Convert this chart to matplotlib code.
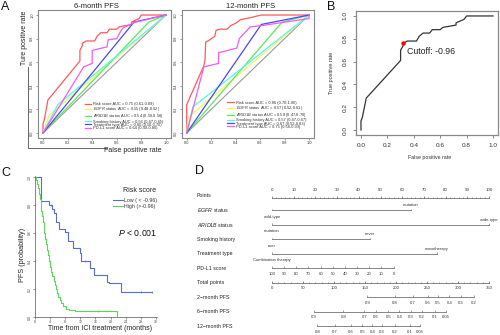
import matplotlib
matplotlib.use('Agg')
import matplotlib.pyplot as plt
from matplotlib.lines import Line2D

plt.rcParams['font.family'] = ['Liberation Sans', 'DejaVu Sans']
plt.rcParams['mathtext.fontset'] = 'custom'
plt.rcParams['mathtext.it'] = 'Liberation Sans:italic'
plt.rcParams['mathtext.rm'] = 'Liberation Sans'

# ------------------------------------------------------------------ data
roc_names = ['Risk score', r'$\it{EGFR}$ status', r'$\it{ARID1B}$ status',
             'Smoking history', 'Treatment type', 'PD-L1 score']
roc_colors = ['#ff5a5a', '#f4f45a', '#5aea5a', '#5af4f4', '#4848f4', '#f45af4']
auc_6m = ['0.75 (0.61-0.89)', '0.55 (0.48-0.62)', '0.54 (0.50-0.58)',
          '0.56 (0.47-0.65)', '0.60 (0.50-0.70)', '0.64 (0.49-0.80)']
auc_12m = ['0.86 (0.70-1.00)', '0.57 (0.52-0.61)', '0.58 (0.47-0.70)',
           '0.57 (0.47-0.67)', '0.67 (0.52-0.83)', '0.75 (0.58-0.93)']

# 6-month ROC curves (fpr, tpr)
risk_fpr = [0, 0, 0.01, 0.04, 0.30, 0.30, 0.32, 0.32, 0.35, 0.42, 0.44, 0.47,
            0.52, 0.54, 0.60, 0.62, 0.72, 0.72, 0.78, 0.80, 1.0]
risk_tpr = [0, 0.08, 0.11, 0.28, 0.61, 0.70, 0.74, 0.76, 0.78, 0.78, 0.82, 0.85,
            0.85, 0.88, 0.88, 0.90, 0.92, 0.94, 0.97, 1.0, 1.0]
egfr6_fpr, egfr6_tpr = [0, 0.05, 1], [0, 0.15, 1]
arid6_fpr, arid6_tpr = [0, 0.86, 1], [0, 0.94, 1]
smoke6_fpr, smoke6_tpr = [0, 0.12, 1], [0, 0.24, 1]
treat6_fpr, treat6_tpr = [0, 0.74, 1], [0, 0.94, 1]
pdl6_fpr = [0, 0.33, 0.40, 0.40, 0.52, 0.53, 0.60, 0.63, 0.65, 0.75, 0.80, 1.0]
pdl6_tpr = [0, 0.56, 0.59, 0.70, 0.73, 0.79, 0.80, 0.86, 0.89, 0.94, 0.95, 1.0]

# 12-month ROC curves
risk12_fpr = [0, 0, 0.14, 0.15, 0.155, 0.19, 0.23, 0.24, 0.27, 0.33, 0.36, 0.40,
              0.44, 0.53, 0.61, 1.0]
risk12_tpr = [0, 0.24, 0.57, 0.62, 0.77, 0.79, 0.82, 0.87, 0.88, 0.88, 0.91, 0.93,
              0.96, 0.98, 1.0, 1.0]
egfr12_fpr, egfr12_tpr = [0, 0.01, 1], [0, 0.13, 1]
arid12_fpr, arid12_tpr = [0, 0.78, 1], [0, 0.94, 1]
smoke12_fpr, smoke12_tpr = [0, 0.05, 1], [0, 0.22, 1]
treat12_fpr, treat12_tpr = [0, 0.61, 1], [0, 0.92, 1]
pdl12_fpr = [0, 0.14, 0.26, 0.26, 0.41, 0.43, 0.52, 0.61, 1.0, 1.0]
pdl12_tpr = [0, 0.56, 0.59, 0.68, 0.72, 0.80, 0.90, 0.91, 0.97, 1.0]

cutoff_fpr, cutoff_tpr, cutoff_label = 0.32, 0.76, 'Cutoff: -0.96'

# Kaplan-Meier (time in months, survival)
low_t = [0, 1.5, 3.8, 4.4, 5.0, 5.5, 6.3, 8.0, 8.8, 10.0, 12.0, 12.3, 14.6, 15.7,
         19.0, 19.7, 22.8, 31.0]
low_s = [1.0, 0.83, 0.80, 0.77, 0.74, 0.68, 0.63, 0.61, 0.54, 0.49, 0.46, 0.40,
         0.35, 0.30, 0.25, 0.24, 0.18, 0.18]
low_cens_t = [4.2, 13.3, 28.0, 31.0]
low_cens_s = [0.80, 0.40, 0.18, 0.18]
high_t = [0, 0.3, 0.6, 0.9, 1.1, 1.3, 1.5, 1.7, 1.9, 2.1, 2.3, 2.5, 2.7, 2.9, 3.1,
          3.4, 3.7, 4.0, 4.3, 4.6, 4.9, 5.2, 5.5, 5.8, 6.2, 6.6, 7.0, 7.5, 8.2,
          9.0, 10.5, 21.6]
high_s = [1.0, 0.98, 0.95, 0.92, 0.88, 0.84, 0.80, 0.76, 0.72, 0.68, 0.64, 0.60,
          0.56, 0.52, 0.48, 0.44, 0.40, 0.36, 0.32, 0.29, 0.26, 0.23, 0.20, 0.17,
          0.14, 0.12, 0.10, 0.08, 0.06, 0.05, 0.04, 0.0]
high_cens_t = [16.8]
high_cens_s = [0.04]

# Nomogram
nomo_rows = ['Points', r'$\it{EGFR}$ status', r'$\it{ARID1B}$ status', 'Smoking history',
             'Treatment type', 'PD-L1 score', 'Total points', '2\u2212month PFS',
             '6\u2212month PFS', '12\u2212month PFS']
points_ticks = [0, 10, 20, 30, 40, 50, 60, 70, 80, 90, 100]
egfr_levels, egfr_pts = ['wild-type', 'mutation'], [0, 64]
arid_levels, arid_pts = ['mutation', 'wide-type'], [0, 100]
smoke_levels, smoke_pts = ['ever', 'never'], [0, 45]
treat_levels, treat_pts = ['Combination therapy', 'monotherapy'], [0, 76]
pdl1_values = [100, 90, 80, 70, 60, 50, 40, 30, 20, 10, 0]
pdl1_pts = [0, 5.6, 11.2, 16.8, 22.4, 28.0, 33.6, 39.2, 44.8, 50.4, 56.0]
total_ticks = [0, 50, 100, 150, 200, 250, 300, 350]
pfs2_probs = ['0.9', '0.8', '0.7', '0.6', '0.5', '0.4', '0.3', '0.2']
pfs2_total = [154, 198, 227, 251, 268, 286, 305, 325]
pfs6_probs = ['0.9', '0.8', '0.7', '0.6', '0.5', '0.4', '0.3', '0.2', '0.1', '0.05']
pfs6_total = [67.5, 115, 149, 168, 187.5, 205.6, 224, 241.5, 263, 280]
pfs12_probs = ['0.8', '0.7', '0.6', '0.5', '0.4', '0.3', '0.2', '0.1', '0.05']
pfs12_total = [73, 101, 127, 145.5, 162, 177, 198, 222, 238.7]

# ------------------------------------------------------------------ figure
W, H = 500, 335
fig = plt.figure(figsize=(5, 3.35), dpi=100)


def box(l, t, r, b):
    return [l / W, 1 - b / H, (r - l) / W, (b - t) / H]


def ftext(x, y, s, **kw):
    fig.text(x / W, 1 - y / H, s, **kw)


def roc_axes(rect):
    ax = fig.add_axes(box(*rect))
    ax.set_xlim(-0.04, 1.04)
    ax.set_ylim(-0.04, 1.04)
    t = [0, 0.2, 0.4, 0.6, 0.8, 1.0]
    ax.set_xticks(t, ['0.0', '0.2', '0.4', '0.6', '0.8', '1.0'])
    ax.set_yticks(t, ['0.0', '0.2', '0.4', '0.6', '0.8', '1.0'],
                  rotation=90, va='center')
    ax.tick_params(labelsize=2.8, length=1.5, width=0.4, pad=1.2,
                   colors='#555', labelcolor='#333')
    for s in ax.spines.values():
        s.set_color('#888')
        s.set_linewidth(0.8)
    return ax


def draw_rocs(ax, curves, aucs, legend_xy):
    ax.plot([0, 1], [0, 1], color='#9a9a9a', lw=0.8)
    handles = []
    for (fx, ty), c, n, a in zip(curves, roc_colors, roc_names, aucs):
        ax.plot(fx, ty, color=c, lw=0.9)
        handles.append(Line2D([], [], color=c, lw=0.9, label=f'{n} AUC = {a}'))
    ax.legend(handles=handles, loc='lower left', bbox_to_anchor=legend_xy,
              frameon=False, fontsize=2.9, handlelength=1.6, handletextpad=0.5,
              labelspacing=-0.2, borderpad=0, borderaxespad=0, labelcolor='#333')


# ---- Panel A
axA1 = roc_axes((38.1, 10.3, 170.9, 137.7))
draw_rocs(axA1, [(risk_fpr, risk_tpr), (egfr6_fpr, egfr6_tpr), (arid6_fpr, arid6_tpr),
                 (smoke6_fpr, smoke6_tpr), (treat6_fpr, treat6_tpr),
                 (pdl6_fpr, pdl6_tpr)], auc_6m, (0.353, 0.06))
axA2 = roc_axes((181.8, 10.3, 313.9, 137.7))
draw_rocs(axA2, [(risk12_fpr, risk12_tpr), (egfr12_fpr, egfr12_tpr),
                 (arid12_fpr, arid12_tpr), (smoke12_fpr, smoke12_tpr),
                 (treat12_fpr, treat12_tpr), (pdl12_fpr, pdl12_tpr)],
          auc_12m, (0.344, 0.07))
ftext(96, 6, '6-month PFS', fontsize=5.5, ha='center', va='center', color='#222')
ftext(251, 6, '12-month PFS', fontsize=5.5, ha='center', va='center', color='#222')
ftext(25, 38, 'Ture positive rate', fontsize=5, rotation=90, ha='center',
      va='center', color='#222')
ftext(132.5, 150, 'False positive rate', fontsize=5, ha='center', va='center',
      color='#222')
fig.add_artist(Line2D([28 / W, 28 / W, 107 / W],
                      [1 - 67 / H, 1 - 148 / H, 1 - 148 / H],
                      color='#666', lw=0.7, transform=fig.transFigure))

# ---- Panel B
axB = fig.add_axes(box(355.7, 11.4, 498.3, 134.6))
axB.set_xlim(-0.04, 1.04)
axB.set_ylim(-0.04, 1.04)
tk = [0, 0.2, 0.4, 0.6, 0.8, 1.0]
axB.set_xticks(tk, ['0.0', '0.2', '0.4', '0.6', '0.8', '1.0'])
axB.set_yticks(tk, ['0.0', '0.2', '0.4', '0.6', '0.8', '1.0'], rotation=90,
               va='center')
axB.tick_params(labelsize=4.6, length=2.5, width=0.5, pad=3.2, colors='#555',
                labelcolor='#333')
for s in axB.spines.values():
    s.set_color('#888')
    s.set_linewidth(0.9)
axB.plot(risk_fpr, risk_tpr, color='#333', lw=0.9)
axB.plot([cutoff_fpr], [cutoff_tpr], 'o', color='red', ms=2.2)
axB.text(cutoff_fpr + 0.03, cutoff_tpr - 0.07, cutoff_label, fontsize=6.3,
         ha='left', va='center', color='#222')
ftext(430, 158, 'False positive rate', fontsize=3.8, ha='center', va='center',
      color='#333')
ftext(332, 73, 'True positive rate', fontsize=4, rotation=90, ha='center',
      va='center', color='#333')

# ---- Panel C
axC = fig.add_axes(box(35, 175.6, 157, 317))
axC.set_xlim(0, 32.3)
axC.set_ylim(0, 1.01)
axC.step(low_t, low_s, where='post', color='#5b6ccf', lw=0.8)
axC.step(high_t, high_s, where='post', color='#5ed35e', lw=0.8)
axC.plot(low_cens_t, low_cens_s, ls='none', marker='|', ms=2, mew=0.5,
         color='#5b6ccf')
axC.plot(high_cens_t, high_cens_s, ls='none', marker='|', ms=2, mew=0.5,
         color='#5ed35e')
axC.set_xticks([0, 4, 8, 12, 16, 20, 24, 28, 32])
axC.set_yticks([0, 0.2, 0.4, 0.6, 0.8, 1.0],
               ['0.0', '0.2', '0.4', '0.6', '0.8', '1.0'], rotation=90, va='center')
axC.tick_params(labelsize=2.5, length=1.3, width=0.4, pad=1, colors='#444')
for k in ('top', 'right'):
    axC.spines[k].set_visible(False)
for k in ('left', 'bottom'):
    axC.spines[k].set_color('#555')
    axC.spines[k].set_linewidth(0.5)
axC.legend(handles=[Line2D([], [], color='#5b6ccf', lw=0.8, label='Low ( < -0.96)'),
                    Line2D([], [], color='#5ed35e', lw=0.8, label='High (>-0.96)')],
           loc='upper left', bbox_to_anchor=((113 - 35) / 122, (317 - 198) / 141.4),
           frameon=False, fontsize=3.8, handlelength=1.8, handletextpad=0.3,
           labelspacing=0.15, borderpad=0, borderaxespad=0, labelcolor='#333')
ftext(140, 190, 'Risk score', fontsize=5, ha='center', va='center', color='#222')
ftext(138, 233, r'$\it{P}$ < 0.001', fontsize=6.3, ha='center', va='center',
      color='#111')
ftext(23, 255, 'PFS (probability)', fontsize=5.2, rotation=90, ha='center',
      va='center', color='#222')
ftext(100, 328, 'Time from ICI treatment (months)', fontsize=5, ha='center',
      va='center', color='#222')

# ---- Panel D (nomogram)
P0, PPX = 272.0, 2.17          # pixel of 0 points, pixels per point
R0, RPX = 195.7, 14.48          # pixel of row 0, pixels per row
L, R, T, B = 175, 500, 180, 335
axD = fig.add_axes(box(L, T, R, B))
axD.set_xlim((L - P0) / PPX, (R - P0) / PPX)
axD.set_ylim((B - R0) / RPX, (T - R0) / RPX)
axD.axis('off')
px = 1 / RPX
lc = '#555'
lab_x = (197 - P0) / PPX
for i, name in enumerate(nomo_rows):
    axD.text(lab_x, i, name, fontsize=3.8, ha='left', va='center', color='#222')

# Points
yp = 0 + 2.3 * px
axD.plot([0, 100], [yp, yp], color=lc, lw=0.5)
axD.vlines([v for v in range(0, 101, 2)], yp, yp - 1.0 * px, color=lc, lw=0.4)
axD.vlines(points_ticks, yp, yp - 2.0 * px, color=lc, lw=0.4)
for v in points_ticks:
    axD.text(v, yp - 8 * px, str(v), fontsize=3.2, ha='center', va='center',
             color='#333')

# categorical rows
for row, levels, pts in [(1, egfr_levels, egfr_pts), (2, arid_levels, arid_pts),
                         (3, smoke_levels, smoke_pts), (4, treat_levels, treat_pts)]:
    axD.plot([min(pts), max(pts)], [row, row], color=lc, lw=0.5)
    axD.vlines(pts, row, row - 1.6 * px, color=lc, lw=0.4)
    for j, (lv, p) in enumerate(zip(levels, pts)):
        off = 6.5 * px if j % 2 == 0 else -5.0 * px
        axD.text(p, row + off, lv, fontsize=3.0, ha='center', va='center',
                 color='#333')


def scale_row(row, pos, labels, minor=None):
    axD.plot([min(pos), max(pos)], [row, row], color=lc, lw=0.5)
    if minor is not None:
        axD.vlines(minor, row, row - 1.0 * px, color=lc, lw=0.4)
    axD.vlines(pos, row, row - 1.8 * px, color=lc, lw=0.4)
    for p, s in zip(pos, labels):
        axD.text(p, row + 5.5 * px, s, fontsize=3.1, ha='center', va='center',
                 color='#333')


scale_row(5, pdl1_pts, [str(v) for v in pdl1_values])
scale_row(6, [t / 3.5 for t in total_ticks], [str(v) for v in total_ticks],
          minor=[t / 3.5 for t in range(0, 351, 10)])
scale_row(7, [t / 3.5 for t in pfs2_total], pfs2_probs)
scale_row(8, [t / 3.5 for t in pfs6_total], pfs6_probs)
scale_row(9, [t / 3.5 for t in pfs12_total], pfs12_probs)

# ---- panel letters
ftext(1, 7, 'A', fontsize=9, ha='left', va='center', color='#111')
ftext(327, 7, 'B', fontsize=9, ha='left', va='center', color='#111')
ftext(1, 173, 'C', fontsize=9, ha='left', va='center', color='#111')
ftext(195, 171, 'D', fontsize=9, ha='left', va='center', color='#111')

fig.savefig('out.png', dpi=100, facecolor='white')
